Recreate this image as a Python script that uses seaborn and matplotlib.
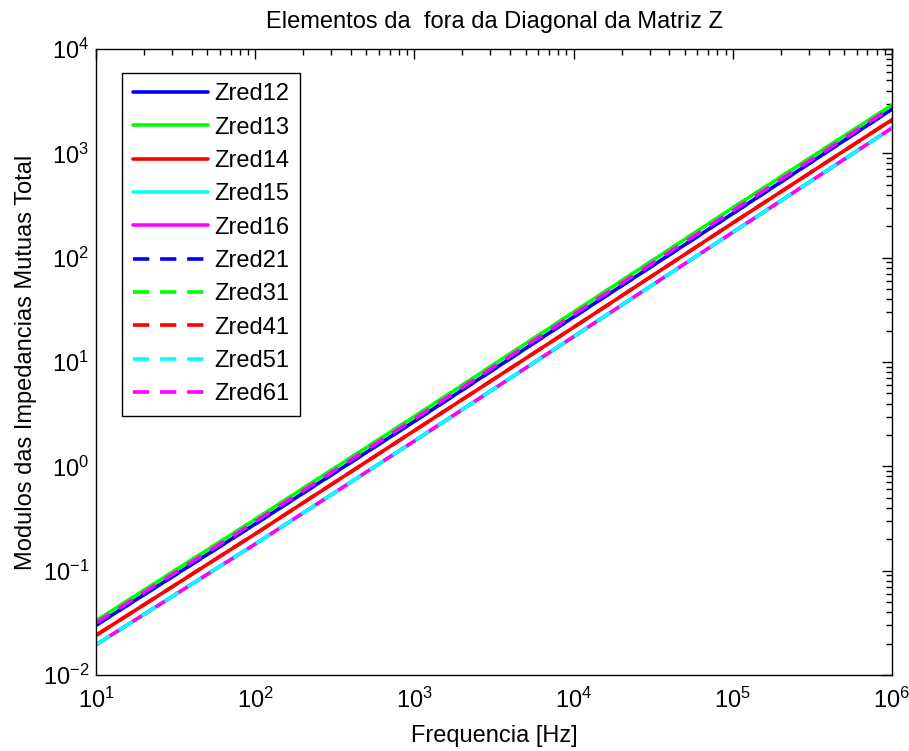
import pandas as pd
import numpy as np
import seaborn as sns
import matplotlib.pyplot as plt
from matplotlib.ticker import FixedLocator, LogFormatterMathtext, NullFormatter

# frequencias (Hz) e modulos
freq = [1e1, 1e2, 1e3, 1e4, 1e5, 1e6]
zred12 = [0.030, 0.280, 2.70, 27.0, 265.0, 2650.0]
zred13 = [0.033, 0.310, 3.00, 30.0, 300.0, 2900.0]
zred14 = [0.024, 0.225, 2.20, 21.5, 215.0, 2100.0]
zred15 = [0.0195, 0.180, 1.75, 17.5, 175.0, 1750.0]
zred16 = [0.0195, 0.180, 1.75, 17.5, 175.0, 1750.0]
zred21 = [0.030, 0.280, 2.70, 27.0, 265.0, 2650.0]
zred31 = [0.033, 0.310, 3.00, 30.0, 300.0, 2900.0]
zred41 = [0.024, 0.225, 2.20, 21.5, 215.0, 2100.0]
zred51 = [0.0195, 0.180, 1.75, 17.5, 175.0, 1750.0]
zred61 = [0.0315, 0.295, 2.85, 28.5, 282.0, 2770.0]

names = ['Zred12', 'Zred13', 'Zred14', 'Zred15', 'Zred16',
         'Zred21', 'Zred31', 'Zred41', 'Zred51', 'Zred61']
series = [zred12, zred13, zred14, zred15, zred16,
          zred21, zred31, zred41, zred51, zred61]
colors = ['#0000ff', '#00ff00', '#ff0000', '#00ffff', '#ff00ff'] * 2

xdecades = [1e1, 1e2, 1e3, 1e4, 1e5, 1e6]
ydecades = [1e-2, 1e-1, 1e0, 1e1, 1e2, 1e3, 1e4]

sns.set_style('white')
plt.rcParams['font.family'] = ['Liberation Sans', 'DejaVu Sans']
plt.rcParams['mathtext.default'] = 'regular'
plt.rcParams['text.color'] = 'black'

rows = []
for n, vals in zip(names, series):
    for f, v in zip(freq, vals):
        rows.append({'freq': f, 'z': v, 'serie': n})
df = pd.DataFrame(rows)

fig = plt.figure(figsize=(9.09, 7.51), dpi=100)
ax = fig.add_axes([96 / 909, 1 - 675 / 751, 796 / 909, 626 / 751])

for i, n in enumerate(names):
    sub = df[df['serie'] == n]
    ls = '-' if i < 5 else '--'
    sns.lineplot(data=sub, x='freq', y='z', color=colors[i], linestyle=ls,
                 linewidth=2.6, label=n, ax=ax)
    if i >= 5:
        ax.lines[-1].set_dashes((4.5, 3))

ax.set_xscale('log')
ax.set_yscale('log')
ax.set_xlim(xdecades[0], xdecades[-1])
ax.set_ylim(ydecades[0], ydecades[-1])

# ticks maiores so dentro dos limites, menores 2..9 de cada decada
for axis, dec in [(ax.xaxis, xdecades), (ax.yaxis, ydecades)]:
    axis.set_major_locator(FixedLocator(dec))
    axis.set_major_formatter(LogFormatterMathtext())
    minors = [d * k for d in dec[:-1] for k in range(2, 10)]
    axis.set_minor_locator(FixedLocator(minors))
    axis.set_minor_formatter(NullFormatter())

ax.tick_params(which='both', direction='in', top=True, right=True, colors='black',
               labelsize=17)
ax.tick_params(which='major', length=7, width=1)
ax.tick_params(which='minor', length=4, width=1)
ax.tick_params(axis='x', pad=9)
ax.tick_params(axis='y', pad=5)
for s in ax.spines.values():
    s.set_color('black')
    s.set_linewidth(1)

ax.set_title('Elementos da  fora da Diagonal da Matriz Z', fontsize=17, color='black', pad=15)
ax.set_xlabel('Frequencia [Hz]', fontsize=17, color='black', labelpad=9)
ax.set_ylabel('Modulos das Impedancias Mutuas Total', fontsize=17, color='black', labelpad=4)

leg = ax.legend(loc='upper left', bbox_to_anchor=(0.033, 0.962), fontsize=17,
                handlelength=3.2, labelspacing=0.48, fancybox=False, framealpha=1,
                borderpad=0.45, handletextpad=0.25, borderaxespad=0)
leg.get_frame().set_edgecolor('black')
leg.get_frame().set_linewidth(1)

fig.savefig('out.png', dpi=100)
